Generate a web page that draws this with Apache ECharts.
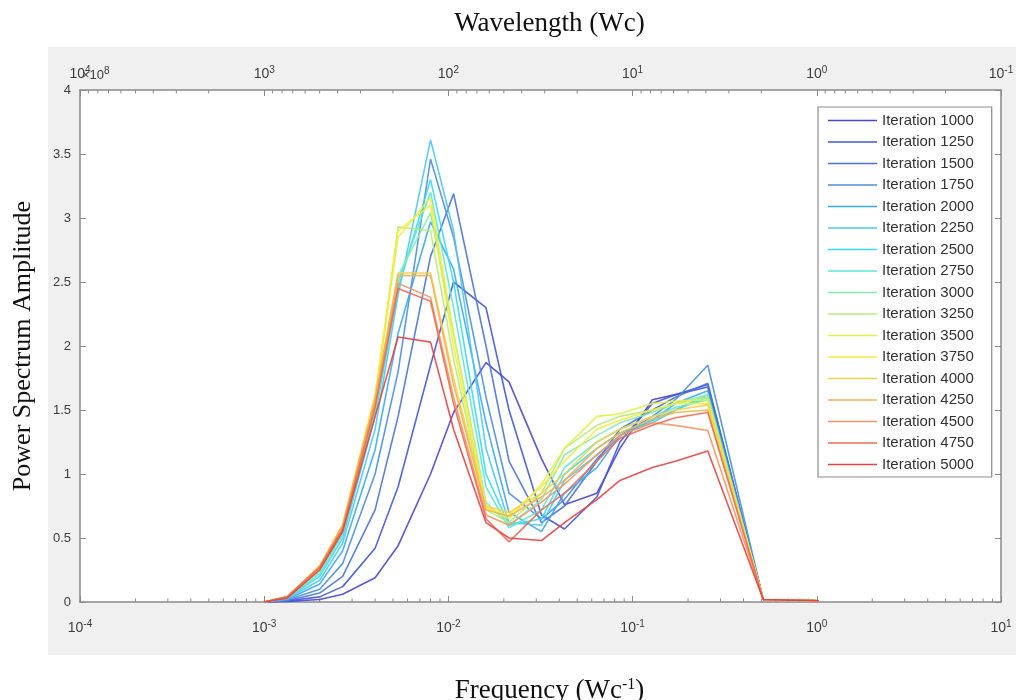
<!DOCTYPE html>
<html>
<head>
<meta charset="utf-8">
<script src="https://cdn.jsdelivr.net/npm/echarts@6/dist/echarts.min.js"></script>
<style>
  html, body { margin: 0; padding: 0; background: #ffffff; }
  #chart { width: 1016px; height: 700px; }
</style>
</head>
<body>
<div id="chart"></div>
<script>
// Spatial frequency samples (Wc^-1)
const freq = [0.001, 0.0013333, 0.002, 0.0026667, 0.004, 0.0053333, 0.008, 0.0106667,
  0.016, 0.0213333, 0.032, 0.0426667, 0.064, 0.0853333, 0.128, 0.1706667, 0.256, 0.512, 1.024];

// Power spectrum amplitude (x 1e8) per iteration
const iter1000 = [0, 0.005, 0.02, 0.06, 0.19, 0.44, 1.00, 1.48, 1.87, 1.72, 1.12, 0.76, 0.85, 1.20, 1.58, 1.62, 1.70, 0.02, 0.01];
const iter1250 = [0, 0.01, 0.04, 0.12, 0.42, 0.90, 1.85, 2.50, 2.30, 1.50, 0.68, 0.57, 0.82, 1.25, 1.55, 1.62, 1.68, 0.02, 0.01];
const iter1500 = [0, 0.01, 0.07, 0.20, 0.72, 1.45, 2.70, 3.19, 2.00, 1.10, 0.62, 0.75, 1.10, 1.35, 1.50, 1.60, 1.71, 0.02, 0.01];
const iter1750 = [0, 0.015, 0.10, 0.30, 1.00, 1.80, 3.46, 2.85, 1.60, 0.85, 0.65, 0.80, 1.12, 1.30, 1.45, 1.58, 1.85, 0.02, 0.01];
const iter2000 = [0, 0.02, 0.14, 0.40, 1.19, 2.10, 2.97, 2.60, 1.40, 0.70, 0.55, 0.85, 1.05, 1.30, 1.42, 1.55, 1.65, 0.02, 0.01];
const iter2250 = [0, 0.025, 0.17, 0.46, 1.35, 2.40, 3.61, 2.90, 1.20, 0.62, 0.60, 0.95, 1.15, 1.30, 1.40, 1.50, 1.62, 0.02, 0.01];
const iter2500 = [0, 0.03, 0.20, 0.50, 1.45, 2.45, 3.30, 2.50, 1.00, 0.60, 0.65, 1.00, 1.20, 1.32, 1.42, 1.50, 1.60, 0.02, 0.01];
const iter2750 = [0, 0.03, 0.22, 0.53, 1.50, 2.50, 3.20, 2.30, 0.90, 0.58, 0.72, 1.05, 1.25, 1.35, 1.45, 1.52, 1.58, 0.02, 0.01];
const iter3000 = [0, 0.035, 0.24, 0.55, 1.50, 2.55, 3.04, 2.10, 0.78, 0.60, 0.80, 1.15, 1.30, 1.40, 1.48, 1.55, 1.62, 0.02, 0.01];
const iter3250 = [0, 0.04, 0.26, 0.57, 1.55, 2.93, 2.90, 1.90, 0.72, 0.62, 0.85, 1.20, 1.38, 1.45, 1.50, 1.55, 1.60, 0.02, 0.01];
const iter3500 = [0, 0.04, 0.28, 0.60, 1.60, 2.85, 3.16, 2.10, 0.75, 0.65, 0.92, 1.20, 1.45, 1.47, 1.55, 1.57, 1.58, 0.02, 0.01];
const iter3750 = [0, 0.04, 0.28, 0.60, 1.62, 2.90, 3.10, 2.00, 0.73, 0.68, 0.90, 1.10, 1.35, 1.42, 1.50, 1.55, 1.55, 0.02, 0.01];
const iter4000 = [0, 0.04, 0.27, 0.60, 1.60, 2.57, 2.57, 1.75, 0.75, 0.70, 0.85, 1.00, 1.25, 1.35, 1.45, 1.50, 1.54, 0.02, 0.01];
const iter4250 = [0, 0.04, 0.28, 0.60, 1.58, 2.55, 2.55, 1.70, 0.72, 0.67, 0.82, 0.95, 1.20, 1.32, 1.43, 1.48, 1.50, 0.02, 0.01];
const iter4500 = [0, 0.04, 0.27, 0.58, 1.55, 2.49, 2.38, 1.60, 0.68, 0.60, 0.78, 0.92, 1.15, 1.30, 1.40, 1.38, 1.34, 0.02, 0.01];
const iter4750 = [0, 0.04, 0.27, 0.57, 1.52, 2.45, 2.35, 1.55, 0.65, 0.47, 0.72, 0.85, 1.10, 1.28, 1.38, 1.44, 1.48, 0.02, 0.01];
const iter5000 = [0, 0.03, 0.25, 0.55, 1.45, 2.07, 2.03, 1.35, 0.62, 0.50, 0.48, 0.62, 0.80, 0.95, 1.05, 1.10, 1.18, 0.02, 0.01];

const seriesNames = ['Iteration 1000', 'Iteration 1250', 'Iteration 1500', 'Iteration 1750', 'Iteration 2000',
  'Iteration 2250', 'Iteration 2500', 'Iteration 2750', 'Iteration 3000', 'Iteration 3250', 'Iteration 3500',
  'Iteration 3750', 'Iteration 4000', 'Iteration 4250', 'Iteration 4500', 'Iteration 4750', 'Iteration 5000'];
const seriesValues = [iter1000, iter1250, iter1500, iter1750, iter2000, iter2250, iter2500, iter2750, iter3000,
  iter3250, iter3500, iter3750, iter4000, iter4250, iter4500, iter4750, iter5000];

// jet-like palette, blue -> red
const palette = ['#4a44d6', '#3f55de', '#4a72d6', '#4a8ee0', '#3aa8ee', '#4cc6f2', '#38dcf0', '#5ce6d6',
  '#86eab4', '#b4ec78', '#e4f04a', '#f4ec3a', '#f6d046', '#f6b04a', '#f69466', '#f06a52', '#e64242'];

// Axis ranges and tick labels
const freqMin = 1e-4, freqMax = 10;
const waveMin = 0.1, waveMax = 1e4;
const ampMin = 0, ampMax = 4, ampStep = 0.5;
const powerLabel = '\u00d710{s|8}';

const axisGray = '#8a8a8a';
const labelColor = '#3c3c3c';
const sansFont = 'Liberation Sans';
const serifFont = 'Liberation Serif';

function sciLabel(v) {
  const e = Math.round(Math.log10(v));
  return '10{s|' + e + '}';
}

// minor log ticks (2..9 per decade)
function minorTicks(lo, hi) {
  const out = [];
  for (let k = Math.round(Math.log10(lo)); k < Math.round(Math.log10(hi)); k++) {
    for (let m = 2; m <= 9; m++) out.push([m * Math.pow(10, k)]);
  }
  return out;
}

function tickRenderer(atTop) {
  return function (params, api) {
    const x = api.value(0);
    const p = api.coord([x, atTop ? ampMax : ampMin]);
    const len = 3.5;
    return {
      type: 'line',
      shape: { x1: p[0], y1: p[1], x2: p[0], y2: atTop ? p[1] + len : p[1] - len },
      style: { stroke: axisGray, lineWidth: 1 }
    };
  };
}

const labelRich = {
  s: { fontSize: 10, fontFamily: sansFont, color: labelColor, verticalAlign: 'bottom', padding: [0, 0, 8, 0] }
};

const lineSeries = seriesNames.map((name, i) => ({
  name: name,
  type: 'line',
  xAxisIndex: 0,
  yAxisIndex: 0,
  data: freq.map((f, j) => [f, seriesValues[i][j]]),
  symbol: 'none',
  lineStyle: { width: 1.6, color: palette[i], opacity: 0.9 },
  itemStyle: { color: palette[i] },
  z: 5
}));

const legendIcon = 'path://M0,0 L100,0 L100,3.2 L0,3.2 Z';

const chart = echarts.init(document.getElementById('chart'), null, { renderer: 'canvas' });

chart.setOption({
  animation: false,
  backgroundColor: '#ffffff',
  graphic: [
    { type: 'rect', left: 48, top: 47, shape: { width: 968, height: 608 }, style: { fill: '#f0f0f0' }, z: -10, silent: true },
    { type: 'text', left: 82, top: 66, z: 10,
      style: { text: powerLabel, fontSize: 13, fontFamily: sansFont, fill: labelColor,
        rich: { s: { fontSize: 10, fontFamily: sansFont, fill: labelColor, verticalAlign: 'bottom', padding: [0, 0, 8, 0] } } } }
  ],
  grid: {
    left: 80, right: 15, top: 90, bottom: 98,
    outerBoundsMode: 'none', containLabel: false,
    show: true, backgroundColor: '#ffffff', borderWidth: 0
  },
  legend: {
    data: seriesNames.map(n => ({ name: n, icon: legendIcon })),
    orient: 'vertical',
    left: 818, top: 107,
    padding: [6, 18, 5, 10],
    itemWidth: 49, itemHeight: 15, itemGap: 6.5,
    backgroundColor: '#ffffff',
    borderColor: '#8c8c8c', borderWidth: 1.2,
    textStyle: { fontFamily: sansFont, fontSize: 15, color: '#333333', lineHeight: 15 },
    selectedMode: false
  },
  xAxis: [
    {
      type: 'log', logBase: 10, min: freqMin, max: freqMax, position: 'bottom', gridIndex: 0,
      name: 'Frequency (Wc{s|-1})', nameLocation: 'middle', nameGap: 75,
      nameTextStyle: { fontFamily: serifFont, fontSize: 27, color: '#111111', padding: [0, 0, 0, 18],
        rich: { s: { fontFamily: serifFont, fontSize: 16, color: '#111111', verticalAlign: 'bottom', padding: [0, 0, 12, 0] } } },
      axisLine: { show: true, onZero: false, lineStyle: { color: axisGray, width: 1.5 } },
      axisTick: { show: true, inside: true, length: 6, lineStyle: { color: axisGray } },
      axisLabel: { formatter: sciLabel, margin: 17, fontFamily: sansFont, fontSize: 14, color: labelColor, rich: labelRich },
      splitLine: { show: false }
    },
    {
      type: 'log', logBase: 10, min: waveMin, max: waveMax, inverse: true, position: 'top', gridIndex: 0,
      name: 'Wavelength (Wc)', nameLocation: 'middle', nameGap: 53,
      nameTextStyle: { fontFamily: serifFont, fontSize: 27, color: '#111111', padding: [0, 0, 0, 18] },
      axisLine: { show: true, onZero: false, lineStyle: { color: axisGray, width: 1.5 } },
      axisTick: { show: true, inside: true, length: 6, lineStyle: { color: axisGray } },
      axisLabel: { formatter: sciLabel, margin: 7, fontFamily: sansFont, fontSize: 14, color: labelColor, rich: labelRich },
      splitLine: { show: false }
    }
  ],
  yAxis: [
    {
      type: 'value', min: ampMin, max: ampMax, interval: ampStep, position: 'left',
      name: 'Power Spectrum Amplitude', nameLocation: 'middle', nameGap: 44, nameRotate: 90,
      nameTextStyle: { fontFamily: serifFont, fontSize: 26, color: '#111111' },
      axisLine: { show: true, onZero: false, lineStyle: { color: axisGray, width: 1.5 } },
      axisTick: { show: true, inside: true, length: 6, lineStyle: { color: axisGray } },
      axisLabel: { margin: 9, fontFamily: sansFont, fontSize: 13, color: labelColor },
      splitLine: { show: false }
    },
    {
      type: 'value', min: ampMin, max: ampMax, interval: ampStep, position: 'right',
      axisLine: { show: true, onZero: false, lineStyle: { color: axisGray, width: 1.5 } },
      axisTick: { show: true, inside: true, length: 6, lineStyle: { color: axisGray } },
      axisLabel: { show: false },
      splitLine: { show: false }
    }
  ],
  series: lineSeries.concat([
    {
      type: 'custom', name: 'minorBottom', xAxisIndex: 0, yAxisIndex: 0, silent: true, clip: false,
      renderItem: tickRenderer(false), data: minorTicks(freqMin, freqMax), z: 3
    },
    {
      type: 'custom', name: 'minorTop', xAxisIndex: 1, yAxisIndex: 0, silent: true, clip: false,
      renderItem: tickRenderer(true), data: minorTicks(waveMin, waveMax), z: 3
    }
  ])
});
</script>
</body>
</html>
